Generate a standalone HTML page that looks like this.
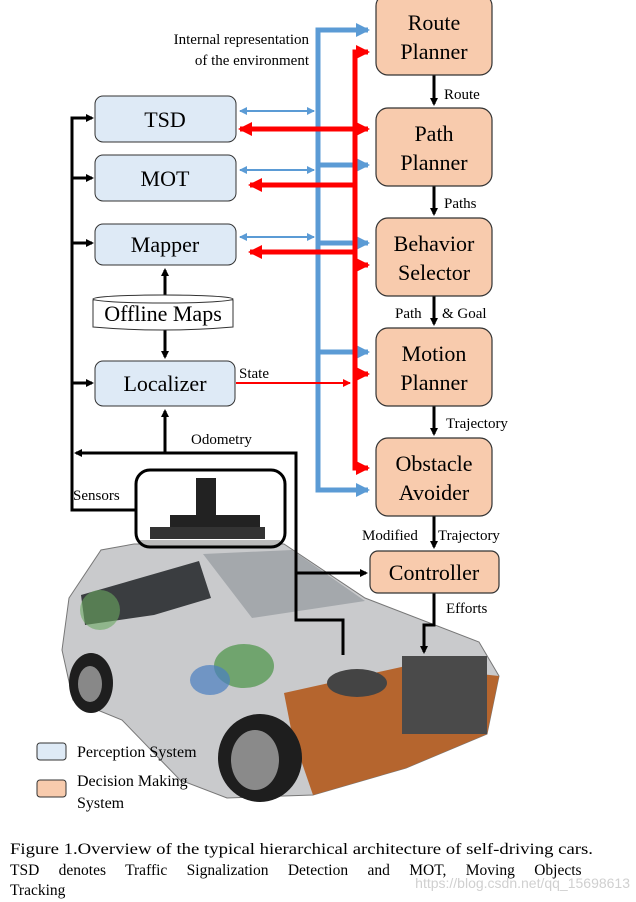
<!DOCTYPE html>
<html><head><meta charset="utf-8"><style>
body{margin:0;background:#fff;}
svg{display:block;font-family:"Liberation Serif",serif;}
</style></head><body>
<svg width="636" height="902" viewBox="0 0 636 902" xmlns="http://www.w3.org/2000/svg">
<defs>
<marker id="bk" markerWidth="8" markerHeight="8" refX="6" refY="4" orient="auto" markerUnits="userSpaceOnUse"><path d="M0,0 L8,4 L0,8 z" fill="#000"/></marker>
<marker id="bl" markerWidth="14" markerHeight="14" refX="12" refY="7" orient="auto" markerUnits="userSpaceOnUse"><path d="M0,0 L14,7 L0,14 z" fill="#5b9bd5"/></marker>
<marker id="rd" markerWidth="14" markerHeight="14" refX="12" refY="7" orient="auto" markerUnits="userSpaceOnUse"><path d="M0,0 L14,7 L0,14 z" fill="#f00"/></marker>
<marker id="rds" markerWidth="8" markerHeight="8" refX="7" refY="4" orient="auto" markerUnits="userSpaceOnUse"><path d="M0,0 L8,4 L0,8 z" fill="#f00"/></marker>
<marker id="blt" markerWidth="8" markerHeight="8" refX="7" refY="4" orient="auto-start-reverse" markerUnits="userSpaceOnUse"><path d="M0,0 L8,4 L0,8 z" fill="#5b9bd5"/></marker>
</defs>

<!-- car -->
<g>
<polygon points="69,598 101,550 134,544 284,544 365,598 479,642 499,676 487,734 406,768 313,795 227,798 180,780 122,720 73,700 62,650" fill="#c9cacc" stroke="#777" stroke-width="1"/>
<polygon points="81,595 199,561 211,598 154,615 85,625" fill="#3a3d40"/>
<polygon points="203,554 292,550 365,601 252,618" fill="#a4a8ac"/>
<polygon points="284,693 406,666 499,676 487,734 406,768 313,795 292,734" fill="#b5652e"/>
<rect x="402" y="656" width="85" height="78" fill="#4a4a4a"/>
<ellipse cx="357" cy="683" rx="30" ry="14" fill="#444"/>
<ellipse cx="244" cy="666" rx="30" ry="22" fill="#5a9a56" opacity="0.8"/>
<ellipse cx="210" cy="680" rx="20" ry="15" fill="#4a7fc0" opacity="0.7"/>
<ellipse cx="100" cy="610" rx="20" ry="20" fill="#6aa860" opacity="0.6"/>
<ellipse cx="260" cy="758" rx="42" ry="44" fill="#1e1e1e"/>
<ellipse cx="255" cy="760" rx="24" ry="30" fill="#8a8a8a"/>
<ellipse cx="91" cy="683" rx="22" ry="30" fill="#1e1e1e"/>
<ellipse cx="90" cy="684" rx="12" ry="18" fill="#888"/>
<rect x="140" y="540" width="140" height="6" fill="#bbb"/>
<rect x="170" y="515" width="90" height="22" fill="#222"/>
<rect x="150" y="527" width="115" height="12" fill="#333"/>
<rect x="196" y="478" width="20" height="40" fill="#222"/>
</g>

<!-- sensor box -->
<rect x="136" y="470" width="149" height="77" rx="14" fill="none" stroke="#000" stroke-width="3"/>

<!-- blue bus -->
<polyline points="368,30 318,30 318,490 368,490" fill="none" stroke="#5b9bd5" stroke-width="5"/>
<g stroke="#5b9bd5" stroke-width="5" fill="none">
<line x1="318" y1="30" x2="368" y2="30" marker-end="url(#bl)"/>
<line x1="318" y1="165" x2="368" y2="165" marker-end="url(#bl)"/>
<line x1="318" y1="243" x2="368" y2="243" marker-end="url(#bl)"/>
<line x1="318" y1="352" x2="368" y2="352" marker-end="url(#bl)"/>
<line x1="318" y1="490" x2="368" y2="490" marker-end="url(#bl)"/>
</g>
<g stroke="#5b9bd5" stroke-width="2">
<line x1="240" y1="111" x2="314" y2="111" marker-end="url(#blt)" marker-start="url(#blt)"/>
<line x1="240" y1="170" x2="314" y2="170" marker-end="url(#blt)" marker-start="url(#blt)"/>
<line x1="240" y1="237" x2="314" y2="237" marker-end="url(#blt)" marker-start="url(#blt)"/>
</g>

<!-- red bus -->
<polyline points="368,52 355,52 355,468 368,468" fill="none" stroke="#f00" stroke-width="5"/>
<g stroke="#f00" stroke-width="5" fill="none">
<line x1="355" y1="52" x2="368" y2="52" marker-end="url(#rd)"/>
<line x1="252" y1="129" x2="368" y2="129" marker-end="url(#rd)"/>
<line x1="355" y1="265" x2="368" y2="265" marker-end="url(#rd)"/>
<line x1="355" y1="374" x2="368" y2="374" marker-end="url(#rd)"/>
<line x1="355" y1="468" x2="368" y2="468" marker-end="url(#rd)"/>
<line x1="355" y1="185" x2="250" y2="185" marker-end="url(#rd)"/>
<line x1="355" y1="252" x2="250" y2="252" marker-end="url(#rd)"/>
</g>
<path d="M250,129 L240,129" stroke="#f00" stroke-width="5" marker-end="url(#rd)"/>
<line x1="236" y1="383" x2="350" y2="383" stroke="#f00" stroke-width="2" marker-end="url(#rds)"/>

<!-- black lines -->
<g stroke="#000" stroke-width="3" fill="none">
<polyline points="136,510 72,510 72,118 90,118"/>
<line x1="72" y1="118" x2="92" y2="118" marker-end="url(#bk)"/>
<line x1="72" y1="178" x2="92" y2="178" marker-end="url(#bk)"/>
<line x1="72" y1="243" x2="92" y2="243" marker-end="url(#bk)"/>
<line x1="72" y1="383" x2="92" y2="383" marker-end="url(#bk)"/>
<polyline points="343,655 343,620 296,620 296,453 80,453"/>
<line x1="100" y1="453" x2="76" y2="453" marker-end="url(#bk)"/>
<line x1="165" y1="453" x2="165" y2="411" marker-end="url(#bk)"/>
<line x1="296" y1="573" x2="366" y2="573" marker-end="url(#bk)"/>
<line x1="165" y1="295" x2="165" y2="270" marker-end="url(#bk)"/>
<line x1="165" y1="330" x2="165" y2="357" marker-end="url(#bk)"/>
<line x1="434" y1="75" x2="434" y2="104" marker-end="url(#bk)"/>
<line x1="434" y1="186" x2="434" y2="214" marker-end="url(#bk)"/>
<line x1="434" y1="296" x2="434" y2="324" marker-end="url(#bk)"/>
<line x1="434" y1="406" x2="434" y2="434" marker-end="url(#bk)"/>
<line x1="434" y1="516" x2="434" y2="547" marker-end="url(#bk)"/>
<polyline points="434,593 434,625 424,625 424,645"/>
<line x1="424" y1="630" x2="424" y2="652" marker-end="url(#bk)"/>
</g>

<!-- left boxes -->
<g fill="#deeaf6" stroke="#333" stroke-width="1">
<rect x="95" y="96" width="141" height="46" rx="8"/>
<rect x="95" y="155" width="141" height="46" rx="8"/>
<rect x="95" y="224" width="141" height="41" rx="8"/>
<rect x="95" y="361" width="140" height="45" rx="8"/>
</g>
<path d="M93,300 Q163,290 233,300 L233,327 Q163,333 93,327 Z" fill="#fff" stroke="#333"/>
<ellipse cx="163" cy="299" rx="70" ry="4" fill="#fff" stroke="#333"/>

<!-- right boxes -->
<g fill="#f8cbad" stroke="#333" stroke-width="1.2">
<rect x="376" y="-6" width="116" height="81" rx="12"/>
<rect x="376" y="108" width="116" height="78" rx="12"/>
<rect x="376" y="218" width="116" height="78" rx="12"/>
<rect x="376" y="328" width="116" height="78" rx="12"/>
<rect x="376" y="438" width="116" height="78" rx="12"/>
<rect x="370" y="551" width="129" height="42" rx="8"/>
</g>

<g font-size="22" text-anchor="middle" fill="#000">
<text x="165" y="127">TSD</text>
<text x="165" y="186">MOT</text>
<text x="165" y="252">Mapper</text>
<text x="163" y="321">Offline Maps</text>
<text x="165" y="391">Localizer</text>
<text x="434" y="30">Route</text><text x="434" y="59">Planner</text>
<text x="434" y="141">Path</text><text x="434" y="170">Planner</text>
<text x="434" y="251">Behavior</text><text x="434" y="280">Selector</text>
<text x="434" y="361">Motion</text><text x="434" y="390">Planner</text>
<text x="434" y="471">Obstacle</text><text x="434" y="500">Avoider</text>
<text x="434" y="580">Controller</text>
</g>
<g font-size="15" fill="#000">
<text x="309" y="44" text-anchor="end">Internal representation</text>
<text x="309" y="65" text-anchor="end">of the environment</text>
<text x="444" y="99">Route</text>
<text x="444" y="208">Paths</text>
<text x="395" y="318">Path</text><text x="442" y="318">&amp; Goal</text>
<text x="239" y="378">State</text>
<text x="446" y="428">Trajectory</text>
<text x="191" y="444">Odometry</text>
<text x="73" y="500">Sensors</text>
<text x="362" y="540">Modified</text><text x="438" y="540">Trajectory</text>
<text x="446" y="613">Efforts</text>
</g>

<!-- legend -->
<rect x="37" y="743" width="29" height="17" rx="3" fill="#deeaf6" stroke="#333"/>
<rect x="37" y="780" width="29" height="17" rx="3" fill="#f8cbad" stroke="#333"/>
<g font-size="16" fill="#000">
<text x="77" y="757">Perception System</text>
<text x="77" y="786">Decision Making</text>
<text x="77" y="808">System</text>
</g>

<!-- caption -->
<g font-size="15.5" fill="#000">
<text x="10" y="854" textLength="583" lengthAdjust="spacingAndGlyphs">Figure 1.Overview of the typical hierarchical architecture of self-driving cars.</text>
<text x="10" y="875" word-spacing="15.5">TSD denotes Traffic Signalization Detection and MOT, Moving Objects</text>
<text x="10" y="895">Tracking</text>
</g>
<text x="630" y="888" font-family="Liberation Sans,sans-serif" font-size="14" fill="#d0d0d0" text-anchor="end">https://blog.csdn.net/qq_15698613</text>
</svg>
</body></html>
